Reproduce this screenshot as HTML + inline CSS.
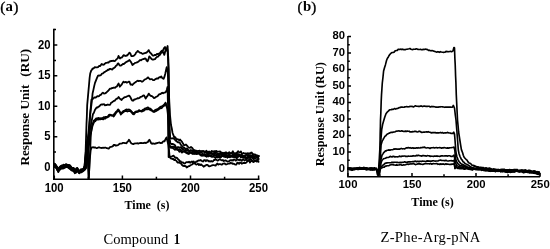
<!DOCTYPE html>
<html><head><meta charset="utf-8"><title>SPR sensorgrams</title>
<style>html,body{margin:0;padding:0;background:#fff}body{width:550px;height:249px;overflow:hidden}svg{display:block}</style>
</head><body>
<svg width="550" height="249" viewBox="0 0 550 249">
<rect width="550" height="249" fill="#fff"/>
<g fill="none" stroke="#000" stroke-width="1.8" stroke-linejoin="round" stroke-linecap="round">
<path d="M54.6 163.8L55.3 165.2L56.0 165.6L57.2 167.6L58.3 169.8L59.3 167.5L60.1 166.5L61.0 166.4L61.8 166.8L62.7 166.4L63.5 165.4L64.3 165.4L65.2 164.7L66.0 164.1L67.0 164.7L68.0 165.1L69.0 165.9L70.0 166.5L71.0 168.3L72.0 169.4L72.8 168.5L73.5 168.1L74.8 170.9L75.5 170.5L76.2 170.2L77.2 168.0L78.4 170.4L79.3 172.2L80.5 169.7L81.2 170.3L82.0 169.5L83.3 169.7L84.5 166.0L85.0 160.5L85.5 155.0L85.7 148.8L85.9 142.5L86.1 136.2L86.3 130.0L86.5 123.8L86.8 117.5L87.0 111.2L87.2 105.0L87.8 98.3L88.4 91.7L89.0 85.0L89.6 78.0L90.2 73.5L91.2 70.6L91.9 69.7L92.6 68.5L93.3 68.7L94.0 68.0L94.8 67.1L95.7 67.4L97.0 67.4L98.0 67.2L99.0 66.0L100.0 66.1L100.8 65.1L101.6 64.0L102.3 64.4L103.0 64.8L103.9 64.7L104.8 63.7L105.8 62.9L106.7 62.8L107.6 62.5L108.5 62.7L109.4 61.5L110.3 61.4L111.2 60.8L112.2 61.0L113.2 60.7L114.2 61.1L115.2 60.8L116.1 59.7L117.0 58.9L117.8 58.1L118.5 55.9L119.2 57.4L120.0 58.5L120.8 57.6L121.7 57.7L122.7 56.4L123.7 55.1L125.0 55.8L125.8 56.0L126.5 55.3L127.3 55.5L128.4 54.0L129.5 52.6L130.4 53.6L131.3 56.0L132.5 56.2L133.4 55.9L134.4 55.2L135.3 54.3L136.1 52.7L137.0 51.9L137.8 50.9L138.6 51.8L139.4 52.2L140.2 52.9L141.3 52.9L142.4 53.9L143.3 53.6L144.1 53.3L145.0 53.0L145.9 52.9L146.8 52.4L147.8 51.4L148.7 50.1L149.5 51.7L150.2 52.8L151.0 53.4L151.9 54.6L152.9 55.6L153.9 55.5L155.0 54.8L156.0 55.0L157.0 53.8L158.0 54.1L159.0 53.7L160.0 52.9L161.0 51.4L162.0 50.7L163.0 50.3L164.0 48.2L165.0 47.0L166.0 50.9L166.8 48.8L167.6 46.0L168.0 53.0L168.4 60.0L168.5 65.8L168.6 71.7L168.7 77.5L168.8 83.3L168.9 89.2L169.0 95.0L169.3 101.7L169.7 108.3L170.0 115.0L170.5 120.0L171.0 125.0L171.8 128.5L172.5 132.7L173.4 135.2L174.3 137.4L175.3 137.2L176.3 139.1L177.3 139.2L178.2 139.4L179.2 140.3L180.1 139.5L181.0 140.7L182.0 141.8L183.0 143.6L184.0 145.2L185.0 145.1L186.0 144.5L187.0 145.6L188.0 146.9L189.0 147.7L190.0 147.8L191.0 146.9L191.9 147.6L192.9 148.9L193.9 150.3L194.8 150.1L195.6 151.3L196.4 150.6L197.2 151.7L198.0 150.9L198.8 150.8L199.7 150.6L200.5 151.5L201.3 151.2L202.2 151.3L203.0 151.2L203.9 151.1L204.8 152.4L205.6 151.4L206.5 150.8L207.4 152.3L208.2 151.9L209.1 151.5L210.0 152.3L210.9 152.1L211.8 150.9L212.8 151.5L213.7 151.4L214.6 151.2L215.5 151.1L216.4 151.0L217.3 151.7L218.2 151.6L219.2 151.7L220.1 151.5L221.0 152.3L221.9 153.1L222.8 153.1L223.8 153.4L224.7 153.5L225.6 153.0L226.5 152.9L227.4 153.5L228.3 152.9L229.2 152.2L230.2 153.2L231.1 153.2L232.0 152.8L232.9 151.3L233.8 153.2L234.7 153.7L235.6 153.5L236.4 153.6L237.3 152.2L238.2 151.2L239.1 152.3L240.0 152.3L240.9 151.4L241.8 153.6L242.7 153.7L243.6 152.9L244.5 153.6L245.5 153.4L246.4 153.6L247.3 153.2L248.2 154.2L249.1 153.2L250.0 153.9L250.9 152.7L251.7 152.5L252.6 154.2L253.4 154.9L254.3 154.6L255.2 154.5L256.0 155.8L256.9 155.1L257.7 156.0L258.6 156.0"/>
<path d="M54.6 165.5L55.3 166.2L56.0 167.0L57.2 169.5L58.3 170.8L59.3 168.4L60.1 168.3L61.0 167.1L61.8 167.4L62.7 167.3L63.5 166.9L64.3 167.2L65.2 166.8L66.0 166.8L67.0 166.6L68.0 166.1L69.0 166.3L70.0 167.3L71.0 168.3L72.0 169.7L72.8 170.2L73.5 170.4L74.8 172.4L75.5 171.5L76.2 170.0L77.2 168.9L78.4 170.4L79.3 172.4L80.5 171.7L81.2 171.3L82.0 171.0L83.3 170.5L84.2 168.7L85.0 167.0L85.5 161.3L86.0 155.7L86.5 150.0L87.2 143.3L88.0 136.7L88.7 130.0L89.3 122.5L90.0 115.0L90.7 110.0L91.4 105.0L92.0 99.7L92.6 93.4L93.4 89.9L94.2 86.1L95.0 82.9L96.0 80.4L97.0 77.9L98.0 75.6L99.0 75.5L100.0 75.6L101.0 75.0L102.0 73.6L103.0 73.4L104.0 72.4L105.0 71.9L106.0 71.1L107.0 70.6L107.9 69.7L108.7 70.0L109.6 68.9L110.5 68.9L111.5 69.4L112.4 69.5L113.3 68.2L114.3 67.8L115.2 67.0L116.0 65.8L116.8 65.4L117.7 63.7L118.5 63.4L119.2 64.8L120.0 65.7L121.0 65.5L122.0 64.8L122.9 64.0L123.8 64.0L124.7 63.3L125.6 62.4L126.5 61.8L127.5 61.4L128.5 60.7L129.5 60.0L130.4 61.2L131.3 62.6L132.5 65.0L133.5 64.1L134.5 63.4L135.3 62.8L136.2 62.6L137.0 62.4L137.8 61.9L138.9 61.2L140.0 60.0L141.0 60.3L142.0 59.5L143.0 59.2L144.0 59.0L144.8 58.4L145.7 58.7L146.6 60.5L147.5 61.3L148.4 59.5L149.3 56.3L150.4 57.5L151.5 59.0L152.3 59.5L153.2 59.6L154.0 59.3L155.0 59.1L156.0 57.8L157.0 56.9L158.0 56.6L159.0 55.4L160.0 54.8L160.8 53.3L161.7 52.6L162.5 50.9L163.4 52.8L164.3 54.9L165.2 51.6L166.0 48.3L166.8 49.5L167.5 50.0L167.9 56.7L168.2 63.3L168.6 70.0L168.7 76.1L168.8 82.2L168.9 88.3L169.0 94.4L169.0 100.6L169.1 106.7L169.2 112.8L169.3 118.9L169.4 125.0L169.8 131.5L170.2 138.0L171.1 138.4L172.1 138.5L173.1 138.2L174.0 138.8L174.8 139.5L175.7 140.8L176.5 140.9L177.3 142.0L178.2 142.5L179.0 142.2L179.8 142.7L180.7 144.6L181.5 145.4L182.3 146.3L183.2 147.5L184.0 147.4L184.9 148.3L185.7 149.4L186.6 148.5L187.4 148.7L188.3 150.1L189.1 150.9L190.0 150.5L190.9 150.4L191.8 150.3L192.7 152.0L193.6 150.8L194.4 151.3L195.3 151.2L196.2 152.3L197.1 152.3L198.0 152.3L198.8 152.3L199.7 152.1L200.5 151.9L201.3 151.5L202.2 151.5L203.0 151.0L203.9 152.0L204.8 152.3L205.6 151.7L206.5 152.8L207.4 153.8L208.2 152.5L209.1 153.1L210.0 153.2L210.9 152.7L211.8 153.5L212.8 153.4L213.7 153.1L214.6 152.7L215.5 153.0L216.4 152.6L217.3 153.3L218.2 154.2L219.2 154.0L220.1 153.8L221.0 152.4L221.9 153.4L222.8 152.7L223.8 153.9L224.7 152.7L225.6 152.3L226.5 152.4L227.4 153.7L228.3 153.7L229.2 154.5L230.2 153.8L231.1 153.3L232.0 153.4L232.9 155.2L233.8 155.1L234.7 153.4L235.6 153.9L236.4 153.2L237.3 154.5L238.2 155.5L239.1 154.8L240.0 156.0L240.9 155.1L241.8 154.6L242.7 156.1L243.6 156.5L244.5 155.8L245.5 155.7L246.4 154.2L247.3 155.2L248.2 155.5L249.1 155.2L250.0 155.3L250.9 155.5L251.7 156.2L252.6 156.0L253.4 157.5L254.3 157.5L255.2 156.3L256.0 156.5L256.9 156.2L257.7 156.7L258.6 155.8"/>
<path d="M54.6 164.9L55.3 166.7L56.0 167.4L57.2 169.9L58.3 171.3L59.3 170.0L60.1 168.5L61.0 167.4L61.8 167.7L62.7 167.5L63.5 167.4L64.3 167.3L65.2 167.1L66.0 167.2L67.0 166.9L68.0 167.0L69.0 167.9L70.0 168.3L71.0 169.7L72.0 170.4L72.8 170.3L73.5 170.1L74.8 172.1L75.5 171.3L76.2 171.2L77.2 170.4L78.4 172.1L79.3 173.3L80.5 171.2L81.2 171.5L82.0 171.0L83.3 170.6L84.4 168.9L85.5 167.0L86.0 161.3L86.5 155.7L87.0 150.0L87.8 143.3L88.5 136.7L89.3 130.0L89.7 123.3L90.1 116.7L90.5 110.0L91.0 104.8L91.4 99.7L92.3 99.2L93.1 98.8L94.0 97.7L94.8 97.4L95.7 97.7L96.5 96.9L97.3 96.2L98.2 96.4L99.0 96.1L100.0 95.0L101.0 94.8L101.9 93.4L102.9 92.6L104.0 93.6L105.0 93.4L106.0 92.9L107.0 91.9L108.0 91.0L109.0 89.8L110.0 88.6L111.0 88.7L112.0 88.0L113.0 88.1L114.0 87.5L115.0 87.8L116.0 86.8L116.9 86.5L117.7 84.9L118.6 83.5L119.8 86.7L120.7 85.7L121.6 84.7L122.5 83.1L123.4 81.6L124.3 82.4L125.1 82.2L126.0 82.0L126.8 82.7L127.7 82.2L128.6 81.7L129.4 81.6L130.6 84.7L131.5 84.5L132.4 85.0L133.3 83.9L134.1 83.2L135.0 82.6L136.1 81.8L137.2 80.8L138.0 80.7L138.7 81.2L139.5 80.8L140.3 80.8L141.2 81.3L142.0 81.8L143.0 81.2L144.0 80.2L145.0 79.3L146.0 79.0L147.0 78.3L148.0 77.3L149.0 78.4L150.0 79.3L151.0 79.2L152.0 79.2L153.0 80.1L154.0 80.2L155.0 79.4L156.0 78.9L157.0 78.4L158.0 78.7L158.8 77.5L159.7 77.1L160.5 77.3L161.3 76.4L162.1 77.9L162.9 78.5L163.7 78.8L164.4 76.9L165.2 74.0L165.9 70.8L166.7 67.2L167.8 72.0L168.0 77.8L168.2 83.5L168.4 89.2L168.6 95.0L168.7 101.1L168.9 107.3L169.0 113.4L169.1 119.6L169.2 125.7L169.4 131.9L169.5 138.0L170.4 143.5L171.2 144.0L172.0 143.9L173.0 144.0L174.0 144.5L175.0 145.2L176.0 147.3L177.0 147.7L178.0 147.0L179.0 147.8L180.0 147.3L180.8 147.1L181.7 148.3L182.5 149.2L183.3 148.9L184.2 150.2L185.0 150.9L185.8 151.0L186.7 150.2L187.5 150.2L188.3 150.9L189.2 151.1L190.0 151.0L190.8 150.2L191.7 150.9L192.5 151.0L193.3 151.3L194.2 151.9L195.0 152.6L196.0 151.5L197.0 151.9L198.0 152.1L198.8 153.0L199.7 152.4L200.5 151.8L201.3 151.8L202.2 153.2L203.0 154.2L203.9 154.6L204.8 153.9L205.6 154.9L206.5 155.2L207.4 154.6L208.2 154.1L209.1 153.3L210.0 153.6L210.9 153.4L211.8 153.7L212.8 153.7L213.7 153.4L214.6 153.7L215.5 153.6L216.4 154.7L217.3 154.7L218.2 154.2L219.2 153.6L220.1 153.4L221.0 154.4L221.9 154.2L222.8 153.5L223.8 155.2L224.7 154.8L225.6 154.4L226.5 155.6L227.4 155.4L228.3 156.7L229.2 156.5L230.2 155.9L231.1 155.7L232.0 156.8L232.9 156.5L233.8 155.1L234.7 154.8L235.6 155.8L236.4 154.4L237.3 154.9L238.2 154.0L239.1 154.3L240.0 155.1L240.9 155.7L241.8 156.4L242.7 157.1L243.6 156.7L244.5 156.5L245.5 157.3L246.4 158.5L247.3 157.0L248.2 157.1L249.1 156.5L250.0 157.2L250.9 156.0L251.7 155.5L252.6 155.5L253.4 154.2L254.3 154.7L255.2 154.8L256.0 156.4L256.9 156.2L257.7 156.9L258.6 156.2"/>
<path d="M54.6 163.7L55.3 164.5L56.0 165.2L57.2 167.2L58.3 169.5L59.3 167.6L60.1 167.0L61.0 166.4L61.8 165.3L62.7 165.5L63.5 164.7L64.3 164.8L65.2 165.2L66.0 164.8L67.0 164.8L68.0 165.3L69.0 164.9L70.0 165.4L71.0 166.5L72.0 168.6L72.8 167.9L73.5 167.8L74.8 169.8L75.5 169.7L76.2 168.6L77.2 167.9L78.4 170.1L79.3 171.3L80.5 170.0L81.2 169.2L82.0 169.9L83.3 168.8L84.4 167.3L85.5 166.0L86.2 160.7L86.8 155.3L87.5 150.0L88.3 143.3L89.1 136.7L89.9 130.0L90.9 124.8L91.9 119.7L92.9 114.3L93.9 112.8L94.9 110.0L95.9 108.4L96.8 107.5L97.6 107.5L98.5 106.6L99.3 106.4L100.2 105.2L101.1 104.6L101.9 104.4L102.9 104.5L104.0 104.2L105.0 105.3L106.0 105.0L106.9 105.1L107.9 104.5L108.8 104.8L109.8 104.9L110.5 103.9L111.3 102.5L112.1 102.3L112.9 101.6L113.8 100.9L114.6 100.8L115.6 99.7L116.6 98.7L117.6 98.5L118.6 97.0L119.6 98.3L120.6 99.3L121.6 100.0L122.4 98.8L123.3 98.3L124.2 97.3L125.0 97.1L125.9 97.1L126.8 96.5L127.6 96.2L128.5 95.7L129.4 95.7L130.4 97.2L131.4 99.4L132.4 100.7L133.3 100.7L134.1 99.4L135.0 99.5L135.9 99.0L136.9 98.6L137.8 98.1L138.7 98.3L139.6 97.9L140.5 96.8L141.3 96.8L142.2 96.4L143.0 95.6L143.9 95.3L144.8 96.8L145.7 98.5L146.7 96.8L147.7 95.6L148.7 93.6L149.5 94.6L150.2 95.5L151.0 96.0L152.0 96.1L153.0 97.0L154.0 98.1L155.0 97.7L156.0 96.9L157.0 96.5L158.0 95.7L158.8 94.6L159.7 94.1L160.5 94.2L161.3 93.3L162.2 92.7L163.1 93.3L164.0 92.7L165.0 92.6L166.0 91.8L166.8 89.7L167.5 87.0L167.7 93.0L167.8 99.0L168.0 105.0L168.1 111.3L168.2 117.7L168.2 124.0L168.3 130.3L168.4 136.7L168.5 143.0L169.5 146.0L170.2 146.2L171.0 146.5L172.0 147.1L173.0 146.4L174.0 147.5L175.0 146.8L175.8 148.6L176.7 148.0L177.5 149.6L178.3 149.7L179.2 149.2L180.0 149.1L180.9 150.1L181.7 150.4L182.6 151.3L183.4 151.4L184.3 151.4L185.1 151.9L186.0 152.4L186.9 153.0L187.7 153.7L188.6 153.8L189.4 152.8L190.3 152.5L191.1 153.1L192.0 153.2L192.9 153.5L193.7 152.9L194.6 153.6L195.4 153.0L196.3 154.0L197.1 153.9L198.0 153.3L198.8 152.9L199.7 153.6L200.5 154.2L201.3 155.4L202.2 154.2L203.0 154.4L203.9 154.4L204.8 155.0L205.6 156.2L206.5 156.4L207.4 156.3L208.2 156.5L209.1 155.1L210.0 155.4L210.9 155.5L211.8 155.1L212.8 154.7L213.7 155.4L214.6 154.9L215.5 155.7L216.4 155.6L217.3 156.5L218.2 155.5L219.2 155.3L220.1 157.1L221.0 155.6L221.9 156.1L222.8 155.7L223.8 155.8L224.7 155.5L225.6 154.9L226.5 155.4L227.4 156.0L228.3 155.3L229.2 154.9L230.2 155.5L231.1 156.0L232.0 155.7L232.9 156.5L233.8 155.8L234.7 157.3L235.6 155.8L236.4 155.6L237.3 157.0L238.2 156.1L239.1 154.9L240.0 156.1L240.9 157.5L241.8 156.2L242.7 155.5L243.6 156.1L244.5 156.5L245.5 157.8L246.4 158.7L247.3 158.5L248.2 157.6L249.1 157.7L250.0 157.0L250.9 156.8L251.7 156.8L252.6 156.5L253.4 156.2L254.3 157.0L255.2 156.1L256.0 156.2L256.9 156.3L257.7 157.3L258.6 155.9"/>
<path d="M54.6 165.1L55.3 165.6L56.0 165.9L57.2 168.3L58.3 170.4L59.3 168.4L60.1 167.8L61.0 166.4L61.8 166.3L62.7 166.7L63.5 166.8L64.3 165.9L65.2 165.2L66.0 165.7L67.0 165.5L68.0 166.1L69.0 166.1L70.0 166.5L71.0 168.1L72.0 169.4L72.8 169.7L73.5 169.3L74.8 171.6L75.5 171.0L76.2 170.6L77.2 169.6L78.4 171.1L79.3 172.1L80.5 170.2L81.2 170.7L82.0 170.2L83.3 169.9L84.6 166.0L85.1 160.7L85.5 155.3L86.0 150.0L86.6 145.0L87.2 140.0L87.5 146.7L87.7 153.3L88.0 160.0L88.2 166.2L88.5 172.3L88.7 178.5L89.1 171.8L89.4 165.0L89.8 157.5L90.2 150.0L90.5 142.5L90.8 135.0L91.5 129.5L92.3 124.6L93.2 122.7L94.0 120.4L95.0 119.8L96.0 118.5L97.0 118.4L97.9 118.2L98.9 118.0L99.9 118.5L101.0 118.1L102.0 118.3L103.0 117.7L104.0 117.1L105.0 117.4L105.8 116.8L106.7 116.9L107.5 116.5L108.3 116.0L109.0 114.8L109.8 114.6L110.7 114.9L111.6 115.3L112.5 115.3L113.4 115.6L114.3 114.0L115.1 113.2L116.0 111.8L117.1 110.8L118.2 109.4L119.0 110.3L119.8 111.6L120.6 112.9L121.4 112.8L122.2 112.3L123.0 111.3L123.8 110.9L124.6 110.4L125.4 110.0L126.3 109.4L127.1 109.6L128.0 109.6L129.1 109.5L130.2 110.0L131.0 111.0L131.9 111.8L132.7 112.8L133.6 113.3L134.4 112.9L135.2 111.9L136.0 111.4L137.0 111.3L138.0 111.0L139.0 110.1L140.0 110.8L141.0 110.9L142.0 110.5L143.0 109.8L144.0 109.2L145.0 108.5L146.0 108.3L147.0 107.8L148.0 107.3L149.0 108.6L150.0 108.5L151.0 109.2L152.0 110.4L153.0 111.1L154.0 111.5L155.0 110.0L156.0 109.7L157.0 109.2L158.0 109.0L158.8 108.3L159.7 107.2L160.5 107.4L161.3 106.3L162.4 106.1L163.5 105.1L164.5 104.3L165.5 102.6L166.4 105.6L167.3 107.9L167.8 114.0L168.3 120.0L168.4 126.2L168.4 132.3L168.4 138.5L168.5 144.7L168.6 150.8L168.6 157.0L169.4 156.9L170.2 156.7L171.0 156.6L171.8 156.6L172.7 155.8L173.5 155.7L174.3 156.6L175.2 157.8L176.2 157.6L177.1 157.9L178.1 159.3L179.0 159.9L179.8 161.7L180.7 161.2L181.5 162.4L182.3 162.5L183.2 162.5L184.0 163.5L185.0 163.4L186.0 162.3L187.0 162.0L188.0 162.4L189.0 161.7L190.0 162.7L191.0 162.0L191.9 161.5L192.8 162.2L193.6 161.4L194.5 162.5L195.4 162.8L196.2 161.5L197.1 161.5L198.0 160.7L198.9 160.5L199.8 160.3L200.6 160.0L201.5 160.7L202.4 161.3L203.2 161.5L204.1 160.1L205.0 160.2L205.9 161.2L206.8 160.2L207.7 160.4L208.6 161.4L209.4 161.1L210.3 161.6L211.2 161.0L212.1 161.5L213.0 161.4L213.9 159.9L214.8 160.0L215.7 159.5L216.6 159.9L217.4 160.5L218.3 160.3L219.2 159.5L220.1 159.1L221.0 160.0L221.9 160.3L222.8 160.0L223.8 161.0L224.7 160.6L225.6 160.3L226.5 160.9L227.4 161.6L228.3 161.3L229.2 161.1L230.2 160.2L231.1 160.5L232.0 160.0L232.9 160.6L233.8 159.5L234.7 159.6L235.6 160.5L236.4 160.4L237.3 159.4L238.2 159.6L239.1 160.3L240.0 159.4L240.9 160.0L241.8 160.8L242.7 159.5L243.6 159.7L244.5 160.5L245.5 159.9L246.4 159.8L247.3 160.5L248.2 160.2L249.1 160.0L250.0 159.9L250.9 158.9L251.7 160.4L252.6 161.5L253.4 161.4L254.3 161.5L255.2 160.9L256.0 160.6L256.9 160.0L257.7 159.1L258.6 159.7"/>
<path d="M54.6 166.2L55.3 167.4L56.0 167.3L57.2 169.5L58.3 172.1L59.3 169.9L60.1 169.6L61.0 168.8L61.8 168.7L62.7 168.7L63.5 168.4L64.3 167.9L65.2 167.6L66.0 167.1L67.0 166.7L68.0 167.5L69.0 168.3L70.0 169.1L71.0 169.7L72.0 170.5L72.8 170.8L73.5 170.4L74.8 173.2L75.5 172.9L76.2 172.4L77.2 170.7L78.4 172.3L79.3 173.1L80.5 172.1L81.2 172.4L82.0 171.9L83.3 171.0L84.3 170.3L85.3 169.1L86.3 168.0L87.0 162.0L87.7 156.0L88.4 150.0L89.4 142.5L90.4 135.0L91.5 130.1L92.6 125.6L93.4 123.6L94.3 121.7L95.3 121.2L96.3 119.8L97.3 119.4L98.2 119.6L99.2 119.4L100.2 119.4L101.3 119.1L102.3 119.1L103.3 119.4L104.3 118.4L105.3 118.7L106.1 117.7L107.0 117.5L107.8 117.0L108.6 116.8L109.3 115.7L110.1 115.0L111.0 115.5L111.9 115.3L112.8 115.7L113.7 116.5L114.6 115.2L115.4 113.9L116.3 112.6L117.4 111.4L118.5 110.5L119.3 111.8L120.1 112.8L120.9 114.5L121.7 113.5L122.5 112.8L123.3 112.2L124.1 111.5L124.9 111.1L125.7 111.1L126.6 110.8L127.4 111.5L128.3 111.2L129.4 111.2L130.5 111.0L131.3 112.2L132.2 113.2L133.0 114.1L133.9 114.3L134.7 113.4L135.5 112.1L136.3 112.0L137.3 112.0L138.3 111.6L139.3 111.2L140.3 110.9L141.3 111.6L142.3 111.3L143.3 111.0L144.3 110.5L145.3 109.4L146.3 109.2L147.3 109.3L148.3 108.9L149.3 109.6L150.3 109.8L151.3 110.6L152.3 110.7L153.3 111.8L154.3 111.9L155.3 111.3L156.3 110.9L157.3 110.3L158.3 109.7L159.1 109.0L160.0 108.2L160.8 108.3L161.6 108.2L162.7 106.8L163.8 106.1L164.8 105.0L165.8 103.7L166.7 106.8L167.6 109.0L168.0 114.3L168.3 119.7L168.7 125.0L168.9 131.7L169.1 138.3L169.3 145.0L170.2 147.5L171.1 147.8L172.0 147.8L173.0 148.3L174.0 148.9L175.0 149.8L176.0 149.3L176.9 149.5L177.7 149.8L178.6 150.5L179.4 151.8L180.3 150.9L181.1 151.4L182.0 152.6L182.9 151.6L183.7 151.7L184.6 151.6L185.4 151.9L186.3 152.8L187.1 152.1L188.0 152.9L188.9 153.8L189.8 152.8L190.6 152.7L191.5 152.7L192.4 153.9L193.2 153.7L194.1 153.8L195.0 153.8L196.0 153.6L197.0 153.3L198.0 153.7L198.8 153.5L199.7 154.7L200.5 154.6L201.3 155.6L202.2 155.7L203.0 155.8L203.9 155.4L204.8 155.5L205.6 155.6L206.5 156.5L207.4 155.4L208.2 154.9L209.1 156.0L210.0 155.3L210.9 156.5L211.8 156.8L212.8 156.8L213.7 156.4L214.6 157.5L215.5 158.0L216.4 156.4L217.3 157.5L218.2 156.9L219.2 157.4L220.1 157.4L221.0 157.2L221.9 155.9L222.8 156.1L223.8 156.7L224.7 156.8L225.6 157.1L226.5 156.5L227.4 157.7L228.3 156.8L229.2 157.0L230.2 157.3L231.1 156.2L232.0 156.6L232.9 156.2L233.8 157.1L234.7 157.1L235.6 157.2L236.4 158.1L237.3 157.6L238.2 156.7L239.1 156.1L240.0 155.5L240.9 157.1L241.8 156.8L242.7 157.5L243.6 157.8L244.5 157.9L245.5 157.4L246.4 157.6L247.3 157.4L248.2 157.8L249.1 156.9L250.0 158.4L250.9 156.8L251.7 156.6L252.6 158.3L253.4 159.3L254.3 158.7L255.2 158.9L256.0 157.6L256.9 157.9L257.7 156.8L258.6 158.5"/>
<path d="M54.6 164.1L55.3 165.1L56.0 165.5L57.2 168.2L58.3 170.1L59.3 168.1L60.1 167.0L61.0 166.1L61.8 166.3L62.7 166.4L63.5 166.4L64.3 165.5L65.2 165.1L66.0 164.6L67.0 165.6L68.0 165.2L69.0 166.5L70.0 167.5L71.0 167.8L72.0 168.7L72.8 168.5L73.5 168.3L74.8 170.9L75.5 170.0L76.2 169.7L77.2 168.7L78.4 170.5L79.3 171.7L80.5 170.8L81.2 170.4L82.0 170.9L83.3 169.6L84.0 168.3L84.8 167.0L85.3 161.3L85.7 155.7L86.2 150.0L87.4 143.0L87.6 148.5L87.8 154.0L88.0 159.5L88.2 165.0L88.5 171.7L88.8 178.3L89.1 172.2L89.4 166.1L89.7 160.0L90.2 155.0L90.7 150.0L91.7 147.5L92.5 147.4L93.3 147.2L94.2 147.7L95.0 147.3L95.8 147.7L96.7 148.1L97.5 147.9L98.3 147.4L99.2 147.3L100.0 147.6L101.0 147.9L102.0 148.0L103.0 147.7L104.0 147.9L104.9 147.7L105.9 147.7L106.8 148.2L107.8 148.4L108.7 148.7L109.5 147.7L110.2 147.0L111.0 146.8L111.9 146.6L112.9 146.1L113.8 144.9L114.6 144.8L115.4 145.5L116.2 145.5L117.0 145.4L118.0 145.1L119.0 144.3L120.0 143.6L121.0 143.6L122.0 143.4L123.0 142.9L124.0 142.8L124.8 143.2L125.7 143.1L126.5 143.3L127.3 141.9L128.2 141.2L129.0 139.7L129.9 141.1L130.7 142.6L131.6 143.5L132.4 143.8L133.3 144.2L134.2 143.6L135.0 143.5L135.8 143.3L136.7 143.3L137.5 143.2L138.3 143.6L139.2 143.2L140.0 143.2L141.0 142.8L142.0 143.2L143.0 143.2L144.0 143.0L144.9 142.7L145.9 143.1L146.9 142.4L147.7 142.2L148.6 140.7L149.4 139.8L150.3 141.4L151.1 143.2L152.0 143.8L153.0 143.4L154.0 143.6L155.0 143.9L156.0 143.1L156.9 143.3L157.7 142.9L158.6 142.7L159.4 142.4L160.3 143.1L161.1 142.7L162.0 143.1L162.8 141.8L163.7 141.1L164.5 141.3L165.5 139.1L166.5 137.4L167.5 141.4L168.5 145.3L169.1 151.2L169.6 157.0L170.7 158.3L171.6 158.6L172.4 159.0L173.3 158.8L174.1 160.1L175.0 159.6L175.8 160.4L176.7 161.2L177.5 162.5L178.3 162.4L179.2 162.6L180.0 163.1L181.0 163.5L182.0 165.0L183.0 165.9L184.0 166.0L184.9 165.9L185.8 166.1L186.6 167.5L187.5 167.1L188.5 166.2L189.5 166.2L190.5 165.2L191.5 164.7L192.6 164.1L193.6 163.1L194.5 163.4L195.4 163.9L196.2 164.6L197.1 164.2L198.0 163.7L198.8 165.0L199.7 164.3L200.5 165.0L201.3 164.5L202.2 165.4L203.0 166.0L203.9 166.7L204.8 165.9L205.7 165.4L206.6 164.8L207.5 164.8L208.4 165.9L209.3 166.4L210.2 166.2L211.1 165.8L212.0 165.4L212.9 165.1L213.8 165.1L214.7 165.3L215.6 165.7L216.5 164.3L217.4 163.5L218.3 164.6L219.2 164.2L220.1 164.1L221.0 164.3L221.9 164.8L222.8 163.7L223.8 163.7L224.7 163.3L225.6 164.3L226.5 164.4L227.4 164.0L228.3 163.7L229.2 163.7L230.2 162.9L231.1 163.4L232.0 163.0L232.9 164.0L233.8 163.6L234.7 164.3L235.6 164.6L236.4 164.5L237.3 162.7L238.2 162.9L239.1 163.9L240.0 162.6L240.9 162.6L241.8 163.7L242.7 163.2L243.6 162.9L244.5 163.0L245.5 163.1L246.4 162.5L247.3 161.4L248.2 161.0L249.1 160.6L250.0 162.5L250.9 161.1L251.7 161.2L252.6 161.0L253.4 162.0L254.3 160.8L255.2 160.6L256.0 161.1L256.9 161.6L257.7 160.8L258.6 161.9"/>
</g>
<g fill="none" stroke="#000" stroke-width="1.65" stroke-linejoin="round" stroke-linecap="round">
<path d="M348.2 167.8L349.1 167.9L350.1 168.3L351.1 168.7L352.0 168.8L352.8 168.8L353.7 168.8L354.5 168.5L355.3 168.0L356.2 168.3L357.0 167.9L357.8 168.3L358.7 167.7L359.5 167.6L360.3 168.1L361.2 168.1L362.0 167.7L363.0 167.7L364.0 167.4L365.0 167.8L366.0 168.0L366.8 167.9L367.7 168.2L368.5 168.3L369.3 168.0L370.2 168.0L371.0 167.8L371.9 168.0L372.8 168.4L373.6 168.3L374.5 167.8L375.4 168.3L376.3 168.2L377.5 174.8L378.5 172.0L378.8 166.3L379.2 160.7L379.5 155.0L379.8 150.0L380.0 145.0L380.1 138.8L380.2 132.5L380.4 126.2L380.5 120.0L380.8 113.8L381.0 107.5L381.2 101.2L381.5 95.0L381.9 89.0L382.3 83.0L383.0 77.0L383.6 71.0L384.5 67.8L385.4 64.9L386.6 60.3L387.3 58.5L388.0 57.6L388.8 56.0L389.6 54.8L390.5 53.7L391.3 53.0L392.2 52.5L393.2 52.5L394.0 52.3L394.7 51.2L395.5 50.7L396.3 50.5L397.2 50.5L398.0 49.4L399.0 49.3L400.0 49.5L401.0 49.1L401.8 49.6L402.7 49.1L403.5 49.7L404.4 49.6L405.2 49.7L406.2 49.3L407.1 49.2L408.1 49.0L409.1 48.8L410.0 48.5L411.0 49.2L411.9 49.5L412.8 49.6L413.6 49.2L414.5 49.3L415.4 49.2L416.2 48.8L417.1 49.0L418.0 49.4L418.9 49.5L419.8 49.5L420.6 49.3L421.5 49.7L422.4 49.7L423.2 49.3L424.1 49.6L425.0 49.1L425.9 49.3L426.8 49.3L427.6 49.7L428.5 50.4L429.4 50.2L430.2 50.6L431.1 50.8L432.0 50.6L432.9 50.8L433.9 51.2L434.8 51.4L435.8 51.8L436.7 52.1L437.6 51.7L438.6 51.9L439.5 52.3L440.4 51.7L441.4 52.0L442.3 52.2L443.2 52.3L444.1 52.3L445.1 52.2L446.0 51.4L446.9 51.6L447.8 51.5L448.8 51.7L449.7 51.5L450.6 51.3L451.5 51.7L452.2 51.4L453.0 50.9L453.9 47.5L454.5 48.0L454.7 53.5L454.9 59.0L455.2 64.5L455.4 70.0L455.6 76.2L455.9 82.5L456.1 88.8L456.3 95.0L456.6 101.2L456.9 107.5L457.2 113.8L457.5 120.0L458.1 126.0L458.6 132.0L459.3 136.5L460.0 141.0L460.7 145.3L461.4 149.6L462.6 152.8L463.3 155.2L464.0 157.0L465.0 158.2L466.0 159.3L467.0 160.1L468.0 161.9L469.0 162.9L470.0 163.3L471.0 163.9L472.0 165.2L473.0 165.2L474.0 165.5L475.0 166.1L476.0 166.4L477.0 166.9L478.0 166.9L479.0 167.2L480.0 167.3L480.9 167.4L481.7 167.6L482.6 167.5L483.4 167.5L484.3 168.5L485.1 168.3L486.0 167.8L486.9 168.3L487.8 168.8L488.6 168.3L489.5 168.0L490.4 168.4L491.2 168.8L492.1 169.1L493.0 169.2L493.9 168.9L494.8 169.3L495.6 169.4L496.5 169.7L497.4 169.6L498.2 169.4L499.1 170.1L500.0 169.7L500.9 169.7L501.8 169.3L502.6 169.4L503.5 169.4L504.4 169.4L505.2 169.7L506.1 169.8L507.0 169.7L507.9 169.8L508.8 169.8L509.6 169.6L510.5 169.8L511.4 169.8L512.2 170.2L513.1 170.1L514.0 169.5L514.9 169.5L515.7 169.5L516.6 169.5L517.4 169.6L518.3 170.5L519.1 170.6L520.0 170.4L520.9 170.8L521.8 169.9L522.7 170.0L523.6 170.4L524.5 170.2L525.5 169.9L526.4 170.4L527.3 171.0L528.2 170.4L529.1 170.3L530.0 170.3L530.9 171.1L531.7 171.4L532.6 171.9L533.4 171.8L534.3 171.2L535.1 171.5L536.0 171.8L536.8 171.8L537.6 172.5L538.5 172.9L539.3 172.5"/>
<path d="M348.2 168.2L349.1 168.9L350.1 168.6L351.1 168.4L352.0 168.4L352.8 169.0L353.7 169.1L354.5 168.7L355.3 168.8L356.2 168.5L357.0 168.2L357.8 167.9L358.7 167.9L359.5 168.3L360.3 168.6L361.2 168.0L362.0 168.4L363.0 168.6L364.0 168.1L365.0 168.5L366.0 169.1L366.8 168.7L367.7 168.8L368.5 169.1L369.3 168.6L370.2 168.5L371.0 169.0L371.9 168.6L372.8 168.6L373.6 169.2L374.5 168.9L375.4 168.8L376.3 168.8L377.0 169.8L378.0 175.2L379.2 170.0L379.5 163.8L379.9 157.5L380.2 151.2L380.5 145.0L380.9 139.8L381.3 134.7L381.7 129.5L382.6 124.5L383.6 121.0L384.8 117.0L386.0 113.7L386.9 112.5L387.7 111.6L388.6 110.9L389.6 109.7L390.4 109.7L391.2 109.6L392.0 109.4L392.9 109.4L393.8 109.0L394.7 108.5L395.6 109.1L396.5 108.6L397.5 108.4L398.4 108.1L399.4 107.6L400.3 107.4L401.2 107.1L402.2 107.1L403.1 107.2L404.1 107.1L405.0 106.9L405.9 106.8L406.7 106.6L407.6 106.8L408.4 106.8L409.3 106.7L410.1 106.3L411.0 106.5L411.9 106.3L412.8 106.7L413.7 106.9L414.6 106.2L415.5 105.8L416.4 106.2L417.3 106.3L418.2 106.4L419.1 106.3L420.0 106.3L420.9 105.9L421.8 106.2L422.7 106.6L423.6 106.1L424.5 106.0L425.5 106.3L426.4 106.3L427.3 106.4L428.2 106.2L429.1 106.2L430.0 106.8L430.9 106.8L431.8 106.4L432.7 106.7L433.6 106.5L434.5 106.7L435.5 107.1L436.4 107.0L437.3 107.1L438.2 107.2L439.1 106.9L440.0 107.0L440.9 106.7L441.8 106.8L442.7 106.9L443.6 107.0L444.5 107.3L445.5 107.1L446.4 107.1L447.3 107.0L448.2 107.1L449.1 107.1L450.0 107.1L450.8 107.1L451.7 107.2L452.5 107.2L453.3 105.4L454.5 108.0L455.3 115.0L456.0 120.0L456.4 125.0L456.8 130.0L457.3 136.7L457.8 143.3L458.3 150.0L459.0 153.5L460.0 156.5L460.7 157.9L461.4 159.3L462.2 160.1L463.0 161.7L464.0 162.2L465.0 163.5L466.0 164.0L467.0 164.3L468.0 165.1L469.0 165.5L470.0 166.4L471.0 167.1L472.0 167.6L473.0 167.3L473.9 167.0L474.8 166.7L475.6 166.8L476.5 166.9L477.4 167.7L478.2 167.6L479.1 168.5L480.0 168.4L480.9 168.8L481.9 168.9L482.8 168.9L483.7 168.4L484.6 168.4L485.6 168.8L486.5 169.2L487.4 169.8L488.4 169.9L489.3 169.4L490.2 169.9L491.1 170.0L492.1 169.9L493.0 170.0L493.9 169.5L494.8 169.6L495.6 169.9L496.5 169.6L497.4 169.7L498.2 169.9L499.1 170.2L500.0 169.6L500.9 169.5L501.8 170.3L502.6 170.2L503.5 170.1L504.4 169.6L505.2 169.7L506.1 170.5L507.0 170.1L507.9 170.2L508.8 170.3L509.6 170.1L510.5 170.3L511.4 170.4L512.2 170.4L513.1 169.8L514.0 169.7L514.9 170.1L515.7 170.4L516.6 170.5L517.4 170.8L518.3 171.3L519.1 171.5L520.0 171.4L520.9 170.7L521.8 170.8L522.7 170.9L523.6 170.9L524.5 170.5L525.5 171.1L526.4 170.8L527.3 170.9L528.2 171.3L529.1 171.7L530.0 172.0L530.9 171.7L531.7 171.7L532.6 171.9L533.4 171.8L534.3 171.4L535.1 171.3L536.0 171.8L536.8 172.5L537.6 172.6L538.5 172.2L539.3 172.0"/>
<path d="M348.2 169.3L349.1 169.5L350.1 169.1L351.1 168.9L352.0 169.3L352.8 169.2L353.7 168.8L354.5 168.7L355.3 169.0L356.2 169.1L357.0 169.2L357.8 169.3L358.7 168.9L359.5 169.0L360.3 169.0L361.2 169.2L362.0 168.7L363.0 169.1L364.0 169.1L365.0 169.1L366.0 169.1L366.8 168.9L367.7 168.7L368.5 169.1L369.3 169.3L370.2 169.6L371.0 169.5L371.9 169.5L372.8 169.5L373.6 169.6L374.5 169.6L375.4 169.3L376.3 169.1L377.3 170.0L378.3 175.0L379.5 170.0L379.9 165.0L380.3 160.0L380.6 152.5L381.0 145.0L382.2 141.0L382.9 139.8L383.6 138.5L384.3 137.4L385.0 136.2L385.8 135.8L386.6 134.7L387.6 133.9L388.5 133.5L389.3 133.1L390.0 132.9L390.8 132.4L391.6 132.4L392.4 132.5L393.2 132.1L394.0 132.0L395.0 131.9L396.0 131.3L397.0 131.1L398.0 131.0L398.9 130.8L399.9 131.2L400.8 131.1L401.7 130.8L402.6 131.1L403.6 131.5L404.5 131.4L405.4 131.1L406.4 131.4L407.3 131.1L408.2 131.3L409.1 131.2L410.1 132.0L411.0 131.9L411.9 131.9L412.8 131.6L413.7 131.7L414.6 131.4L415.5 131.4L416.4 131.6L417.3 132.0L418.2 131.7L419.1 131.2L420.0 131.4L421.0 132.1L421.9 132.4L422.8 132.2L423.7 132.1L424.6 132.1L425.5 132.0L426.4 131.9L427.3 132.1L428.2 131.7L429.1 132.1L430.0 132.3L430.9 132.6L431.8 132.9L432.6 132.6L433.5 132.6L434.4 132.5L435.3 132.6L436.2 132.9L437.1 132.7L437.9 132.9L438.8 132.9L439.7 132.8L440.6 132.4L441.5 132.9L442.4 132.5L443.2 133.1L444.1 133.0L445.0 132.8L445.9 132.9L446.8 132.7L447.7 132.4L448.6 132.9L449.4 133.0L450.3 133.0L451.2 133.5L452.1 133.4L453.0 133.5L453.8 132.2L454.5 134.0L455.0 140.0L455.4 145.0L455.7 150.0L456.3 154.0L457.0 157.0L458.0 159.6L459.0 161.5L459.7 162.3L460.4 163.2L461.2 163.8L462.0 164.5L462.8 164.4L463.7 165.2L464.5 165.4L465.3 166.0L466.2 166.0L467.0 167.3L467.9 167.0L468.8 167.4L469.7 167.9L470.6 168.0L471.4 167.9L472.3 168.3L473.2 168.6L474.1 168.5L475.0 168.9L475.9 168.3L476.8 168.9L477.7 169.1L478.6 169.1L479.5 169.0L480.5 168.5L481.4 168.7L482.3 168.8L483.2 168.6L484.1 169.3L485.0 169.3L485.9 169.0L486.8 169.2L487.7 168.9L488.6 169.0L489.4 168.9L490.3 169.5L491.2 169.3L492.1 169.7L493.0 169.5L493.9 169.7L494.8 170.0L495.6 169.9L496.5 169.9L497.4 169.9L498.2 170.5L499.1 170.7L500.0 171.3L500.9 170.7L501.8 170.6L502.6 170.0L503.5 170.4L504.4 171.0L505.2 170.8L506.1 170.3L507.0 170.4L507.9 170.1L508.8 170.8L509.6 170.9L510.5 170.9L511.4 170.6L512.2 170.2L513.1 170.4L514.0 169.8L514.9 170.0L515.7 171.1L516.6 170.8L517.4 171.1L518.3 171.3L519.1 171.0L520.0 170.3L520.9 170.4L521.8 170.9L522.7 170.8L523.6 170.6L524.5 170.6L525.5 170.9L526.4 170.7L527.3 171.1L528.2 171.4L529.1 170.9L530.0 171.3L530.9 171.5L531.7 171.3L532.6 171.2L533.4 171.0L534.3 171.3L535.1 171.5L536.0 171.6L536.8 172.1L537.6 171.7L538.5 172.1L539.3 172.6"/>
<path d="M348.2 168.0L349.1 168.3L350.1 168.1L351.1 168.4L352.0 168.2L352.8 168.4L353.7 168.0L354.5 168.6L355.3 168.6L356.2 168.2L357.0 168.3L357.8 168.2L358.7 167.8L359.5 167.6L360.3 167.6L361.2 168.1L362.0 168.4L363.0 167.8L364.0 168.0L365.0 167.8L366.0 167.8L366.8 168.1L367.7 168.8L368.5 168.8L369.3 168.7L370.2 169.0L371.0 169.1L371.9 168.6L372.8 168.4L373.6 168.4L374.5 168.8L375.4 169.1L376.3 169.1L377.6 171.0L378.6 175.0L379.5 172.0L380.1 166.0L380.8 160.0L382.0 155.3L382.8 154.1L383.5 152.8L384.5 151.8L385.5 150.8L386.3 150.9L387.2 150.2L388.0 150.1L389.0 149.9L390.0 150.2L391.0 149.7L392.0 149.7L393.0 149.6L394.0 148.9L395.0 149.2L395.9 148.8L396.8 149.2L397.7 149.1L398.6 149.1L399.4 149.1L400.3 148.9L401.2 148.4L402.1 148.9L403.0 148.8L403.9 148.7L404.8 148.9L405.7 148.2L406.6 147.8L407.4 148.0L408.3 147.5L409.2 148.0L410.1 147.7L411.0 148.1L411.9 148.1L412.8 147.8L413.7 148.3L414.6 148.0L415.5 148.2L416.4 147.8L417.3 148.1L418.2 147.7L419.1 148.0L420.0 147.9L421.0 147.6L421.9 147.7L422.8 147.3L423.7 147.4L424.6 147.1L425.5 147.7L426.4 148.0L427.3 147.7L428.2 147.8L429.1 148.0L430.0 148.5L430.9 147.9L431.8 147.7L432.6 147.7L433.5 147.6L434.4 148.0L435.3 147.7L436.2 147.6L437.1 147.8L437.9 147.8L438.8 147.7L439.7 147.5L440.6 147.8L441.5 148.2L442.4 147.8L443.2 148.0L444.1 147.6L445.0 147.8L445.9 148.0L446.8 148.1L447.7 147.9L448.6 148.1L449.4 147.9L450.3 147.8L451.2 147.7L452.1 147.5L453.0 147.5L454.0 147.1L454.8 150.0L455.5 158.0L456.2 160.7L457.0 162.5L458.3 164.2L459.1 164.8L460.0 165.5L461.0 165.9L462.0 165.7L463.0 166.3L464.0 166.4L465.0 166.6L466.0 167.8L466.9 167.9L467.8 168.5L468.7 168.2L469.6 167.6L470.5 168.1L471.4 168.9L472.3 168.7L473.2 168.6L474.1 168.5L475.0 169.1L475.9 168.9L476.8 169.1L477.7 169.2L478.6 169.0L479.5 169.6L480.5 169.4L481.4 168.9L482.3 168.7L483.2 168.6L484.1 169.5L485.0 169.1L485.9 169.1L486.8 168.9L487.7 169.2L488.6 169.1L489.4 169.7L490.3 170.1L491.2 170.1L492.1 170.1L493.0 170.3L493.9 170.9L494.8 170.6L495.6 171.0L496.5 171.2L497.4 170.8L498.2 170.7L499.1 171.2L500.0 170.5L500.9 170.8L501.8 170.5L502.6 171.2L503.5 170.9L504.4 171.1L505.2 171.3L506.1 171.4L507.0 171.7L507.9 171.1L508.8 170.9L509.6 171.5L510.5 171.9L511.4 172.1L512.2 171.5L513.1 171.0L514.0 170.7L514.9 170.7L515.7 170.4L516.6 170.9L517.4 171.2L518.3 170.6L519.1 171.1L520.0 171.1L520.9 171.3L521.8 170.8L522.7 171.3L523.6 171.1L524.5 171.1L525.5 171.0L526.4 171.4L527.3 171.6L528.2 171.4L529.1 171.3L530.0 171.5L530.9 171.1L531.7 171.7L532.6 171.5L533.4 171.3L534.3 171.3L535.1 172.3L536.0 172.6L536.8 172.9L537.6 172.9L538.5 173.6L539.3 173.5"/>
<path d="M348.2 168.6L349.1 168.8L350.1 169.2L351.1 169.5L352.0 169.1L352.8 169.1L353.7 169.2L354.5 168.9L355.3 169.2L356.2 169.3L357.0 169.1L357.8 169.0L358.7 168.8L359.5 169.2L360.3 169.2L361.2 169.0L362.0 168.6L363.0 168.7L364.0 168.5L365.0 169.0L366.0 169.5L366.8 169.6L367.7 169.4L368.5 169.3L369.3 168.9L370.2 169.1L371.0 169.0L371.9 169.0L372.8 169.8L373.6 169.2L374.5 169.5L375.4 169.1L376.3 169.7L377.4 170.2L378.5 171.0L379.6 174.0L380.3 168.5L381.0 163.0L382.0 160.3L382.8 159.5L383.5 158.7L384.5 158.5L385.5 158.3L386.3 157.6L387.2 157.5L388.0 157.5L388.9 157.2L389.8 156.6L390.6 156.4L391.5 156.8L392.4 156.8L393.2 156.3L394.1 156.6L395.0 156.9L395.9 156.7L396.8 156.8L397.7 156.8L398.6 156.7L399.4 156.1L400.3 156.4L401.2 156.6L402.1 156.0L403.0 156.2L403.9 156.0L404.8 156.0L405.7 156.4L406.6 156.4L407.4 156.5L408.3 156.1L409.2 156.2L410.1 156.2L411.0 156.1L411.9 156.2L412.8 155.9L413.7 155.7L414.6 156.0L415.5 156.0L416.4 155.4L417.3 155.7L418.2 155.2L419.1 155.5L420.0 155.8L421.0 155.9L421.9 156.1L422.8 155.5L423.7 155.6L424.6 155.8L425.5 155.8L426.4 156.1L427.3 155.6L428.2 155.7L429.1 155.8L430.0 156.4L430.9 156.1L431.8 156.2L432.6 156.2L433.5 156.4L434.4 156.0L435.3 156.1L436.2 156.2L437.1 155.9L437.9 156.3L438.8 156.2L439.7 156.5L440.6 156.1L441.5 155.8L442.4 155.8L443.2 156.0L444.1 156.0L445.0 155.8L445.9 155.9L446.8 155.9L447.7 156.1L448.6 155.7L449.4 155.7L450.3 156.0L451.2 156.5L452.1 156.4L453.0 156.0L454.0 155.1L455.0 160.0L455.7 163.2L456.5 165.0L457.2 165.6L458.0 166.2L459.0 166.6L460.0 167.0L460.9 167.1L461.8 167.2L462.7 167.0L463.6 167.6L464.5 168.3L465.5 168.2L466.4 167.8L467.3 168.1L468.2 168.5L469.1 168.9L470.0 168.8L470.9 169.2L471.8 168.8L472.6 169.0L473.5 169.1L474.4 169.2L475.3 169.4L476.2 169.6L477.1 169.3L477.9 169.2L478.8 169.0L479.7 169.0L480.6 168.7L481.5 168.7L482.4 169.4L483.2 169.7L484.1 169.4L485.0 169.5L485.9 170.0L486.8 170.1L487.7 170.2L488.6 169.7L489.4 169.6L490.3 170.0L491.2 170.2L492.1 170.6L493.0 170.9L493.9 171.1L494.8 170.7L495.6 170.1L496.5 170.4L497.4 170.8L498.2 170.5L499.1 170.8L500.0 170.4L500.9 170.3L501.8 170.4L502.6 170.7L503.5 170.9L504.4 170.8L505.2 170.7L506.1 171.2L507.0 171.6L507.9 170.9L508.8 171.6L509.6 170.8L510.5 170.8L511.4 170.7L512.2 170.8L513.1 170.6L514.0 170.9L514.9 171.2L515.7 171.1L516.6 170.7L517.4 170.9L518.3 171.0L519.1 171.1L520.0 171.3L520.9 171.1L521.8 171.4L522.7 172.0L523.6 171.4L524.5 171.7L525.5 172.1L526.4 172.0L527.3 171.7L528.2 172.1L529.1 172.4L530.0 172.2L530.9 171.9L531.7 172.6L532.6 172.6L533.4 172.4L534.3 172.1L535.1 172.1L536.0 172.2L536.8 172.8L537.6 172.4L538.5 172.4L539.3 172.8"/>
<path d="M348.2 169.1L349.1 168.8L350.1 168.9L351.1 169.0L352.0 169.2L352.8 169.1L353.7 168.8L354.5 168.5L355.3 168.9L356.2 168.8L357.0 168.5L357.8 168.7L358.7 168.9L359.5 169.1L360.3 169.0L361.2 168.6L362.0 168.8L363.0 168.6L364.0 168.6L365.0 168.9L366.0 169.3L366.8 168.7L367.7 169.2L368.5 169.3L369.3 169.3L370.2 169.7L371.0 169.7L371.9 169.9L372.8 169.5L373.6 169.4L374.5 169.3L375.4 169.3L376.3 169.2L377.1 169.5L378.0 169.7L378.8 170.0L379.9 168.5L381.0 167.0L382.0 166.1L383.0 165.2L384.0 164.3L385.0 163.4L386.0 163.1L387.0 162.9L388.0 162.7L389.0 162.7L390.0 162.8L391.0 162.7L392.0 162.2L392.9 162.4L393.8 162.4L394.7 162.2L395.6 162.3L396.5 162.4L397.4 162.3L398.3 162.5L399.2 162.7L400.1 162.3L401.0 162.6L402.0 162.4L402.9 162.3L403.8 162.2L404.7 161.8L405.6 162.1L406.5 162.3L407.4 162.1L408.3 161.9L409.2 161.7L410.1 161.9L411.0 161.7L411.9 161.7L412.8 161.5L413.7 161.8L414.6 161.2L415.5 161.1L416.4 161.7L417.3 161.4L418.2 161.4L419.1 161.7L420.0 161.2L421.0 161.3L421.9 161.3L422.8 161.1L423.7 161.2L424.6 161.3L425.5 161.6L426.4 161.1L427.3 160.9L428.2 161.2L429.1 160.9L430.0 161.4L430.9 161.1L431.8 161.1L432.7 160.8L433.5 160.7L434.4 161.0L435.3 161.1L436.2 161.0L437.1 161.0L438.0 161.0L438.8 160.6L439.7 160.2L440.6 160.0L441.5 160.5L442.4 160.5L443.3 160.5L444.2 160.6L445.0 160.8L445.9 160.3L446.8 160.7L447.7 161.0L448.6 161.0L449.5 160.7L450.3 160.7L451.2 160.5L452.1 160.9L453.0 161.0L454.2 160.2L454.9 168.2L455.8 166.0L457.0 167.6L457.9 167.7L458.9 167.8L459.8 167.9L460.7 167.9L461.6 168.0L462.6 168.5L463.5 168.0L464.4 168.3L465.4 168.5L466.3 168.2L467.2 168.3L468.1 168.8L469.1 168.5L470.0 168.8L470.9 169.5L471.8 169.6L472.6 169.6L473.5 169.1L474.4 168.7L475.3 169.2L476.2 169.3L477.1 168.9L477.9 169.2L478.8 169.2L479.7 169.3L480.6 169.0L481.5 169.2L482.4 169.8L483.2 169.5L484.1 170.2L485.0 170.6L485.9 170.3L486.8 170.4L487.7 170.4L488.6 169.9L489.4 170.2L490.3 170.2L491.2 170.3L492.1 170.3L493.0 171.0L493.9 171.2L494.8 170.6L495.6 170.4L496.5 170.5L497.4 170.4L498.2 170.2L499.1 170.6L500.0 170.9L500.9 171.3L501.8 170.8L502.6 171.4L503.5 171.5L504.4 171.5L505.2 172.0L506.1 172.2L507.0 172.3L507.9 172.3L508.8 171.9L509.6 172.0L510.5 172.4L511.4 171.8L512.2 171.7L513.1 171.5L514.0 172.2L514.9 171.8L515.7 171.4L516.6 171.0L517.4 171.1L518.3 170.8L519.1 171.7L520.0 171.3L520.9 171.4L521.8 171.4L522.7 172.2L523.6 172.7L524.5 172.4L525.5 172.3L526.4 171.7L527.3 172.4L528.2 172.0L529.1 171.7L530.0 171.7L530.9 171.9L531.7 172.7L532.6 172.4L533.4 171.8L534.3 171.7L535.1 171.8L536.0 172.5L536.8 172.8L537.6 172.7L538.5 172.6L539.3 173.7"/>
<path d="M348.2 169.1L349.1 169.3L350.1 169.6L351.1 170.0L352.0 170.3L352.8 170.2L353.7 169.5L354.5 169.7L355.3 169.2L356.2 168.9L357.0 169.3L357.8 169.4L358.7 169.4L359.5 169.3L360.3 169.2L361.2 169.1L362.0 168.8L363.0 168.7L364.0 168.8L365.0 168.9L366.0 169.6L366.8 169.4L367.7 169.2L368.5 169.4L369.3 169.1L370.2 169.6L371.0 169.4L371.9 169.4L372.8 169.5L373.6 169.3L374.5 169.3L375.4 169.1L376.3 169.1L377.2 169.9L378.1 170.2L379.0 170.5L380.0 169.4L381.0 168.4L382.0 167.8L383.0 167.2L383.8 167.1L384.5 167.2L385.2 166.0L386.0 166.1L387.0 165.8L388.0 165.7L389.0 165.6L390.0 165.0L391.0 164.7L392.0 164.6L392.9 164.6L393.8 164.9L394.7 165.0L395.6 165.2L396.5 164.9L397.4 165.1L398.3 165.0L399.2 165.0L400.1 164.6L401.0 164.7L402.0 165.2L402.9 165.1L403.8 164.7L404.7 165.0L405.6 164.8L406.5 164.3L407.4 164.1L408.3 164.5L409.2 164.1L410.1 164.0L411.0 163.8L411.9 164.0L412.8 163.7L413.7 163.8L414.6 164.1L415.5 164.6L416.4 164.3L417.3 164.1L418.2 163.7L419.1 164.1L420.0 163.7L421.0 164.3L421.9 164.2L422.8 164.5L423.7 164.1L424.6 163.8L425.5 163.7L426.4 163.5L427.3 163.8L428.2 163.7L429.1 163.8L430.0 163.8L430.9 163.6L431.8 164.2L432.7 163.8L433.5 163.6L434.4 163.7L435.3 163.7L436.2 163.6L437.1 163.6L438.0 164.3L438.8 164.1L439.7 164.5L440.6 163.8L441.5 164.3L442.4 164.1L443.3 163.9L444.2 164.4L445.0 164.4L445.9 163.8L446.8 164.3L447.7 164.1L448.6 164.2L449.5 164.5L450.3 164.3L451.2 164.4L452.1 164.0L453.0 164.1L454.3 163.8L455.0 168.6L456.0 167.2L457.0 167.8L458.0 168.5L458.9 168.5L459.8 168.6L460.8 168.6L461.7 168.7L462.6 168.0L463.5 168.9L464.5 169.2L465.4 168.9L466.3 168.7L467.2 168.7L468.2 168.7L469.1 169.3L470.0 168.6L470.9 169.4L471.8 169.2L472.6 169.8L473.5 169.1L474.4 169.0L475.3 169.3L476.2 169.2L477.1 169.3L477.9 169.9L478.8 169.7L479.7 169.3L480.6 169.6L481.5 170.3L482.4 169.9L483.2 170.4L484.1 170.3L485.0 170.5L485.9 170.7L486.8 170.6L487.7 170.7L488.6 171.1L489.4 170.9L490.3 171.3L491.2 171.1L492.1 170.9L493.0 171.2L493.9 171.0L494.8 171.2L495.6 171.7L496.5 171.0L497.4 171.2L498.2 171.4L499.1 170.9L500.0 171.1L500.9 171.8L501.8 171.6L502.6 171.7L503.5 171.3L504.4 171.2L505.2 171.4L506.1 171.2L507.0 171.3L507.9 171.5L508.8 171.5L509.6 171.4L510.5 171.2L511.4 171.5L512.2 171.9L513.1 171.7L514.0 171.2L514.9 171.3L515.7 170.9L516.6 170.6L517.4 171.5L518.3 171.6L519.1 171.8L520.0 171.8L520.9 171.6L521.8 171.2L522.7 172.1L523.6 172.3L524.5 171.9L525.5 171.9L526.4 171.8L527.3 171.6L528.2 171.9L529.1 172.7L530.0 172.9L530.9 172.6L531.7 172.3L532.6 172.3L533.4 173.2L534.3 173.1L535.1 173.5L536.0 173.5L536.8 173.9L537.6 174.3L538.5 174.2L539.3 174.8"/>
</g>
<path d="M53.8 29.6V179.2H258.6" fill="none" stroke="#000" stroke-width="1.6" stroke-linecap="square"/>
<path d="M347.9 36.6V176.7H539.3" fill="none" stroke="#000" stroke-width="1.45" stroke-linecap="square"/>
<path d="M53.8 167.3h3.5M53.8 136.8h3.5M53.8 106.2h3.5M53.8 75.7h3.5M53.8 45.1h3.5M53.8 152.0h2.2M53.8 121.5h2.2M53.8 90.9h2.2M53.8 60.4h2.2M53.8 29.6h2.2M54.3 179.2v-3.7M122.4 179.2v-3.7M190.5 179.2v-3.7M258.6 179.2v-3.7M88.3 179.2v-2.5M156.4 179.2v-2.5M224.6 179.2v-2.5M347.9 168.6h3.1M347.9 152.1h3.1M347.9 135.6h3.1M347.9 119.0h3.1M347.9 102.5h3.1M347.9 86.0h3.1M347.9 69.5h3.1M347.9 53.0h3.1M347.9 36.4h3.1M347.9 160.3h1.9M347.9 143.8h1.9M347.9 127.3h1.9M347.9 110.8h1.9M347.9 94.3h1.9M347.9 77.7h1.9M347.9 61.2h1.9M347.9 44.7h1.9M347.9 176.7v-3.7M412.0 176.7v-3.7M476.0 176.7v-3.7M540.1 176.7v-3.7M379.9 176.7v-2.5M444.0 176.7v-2.5M508.1 176.7v-2.5" fill="none" stroke="#000" stroke-width="1.5"/>
<text transform="translate(50.50,170.80) scale(0.940,1)" font-family="'Liberation Sans', Arial, sans-serif" font-weight="bold" font-size="12" text-anchor="end">0</text>
<text transform="translate(50.50,140.25) scale(0.940,1)" font-family="'Liberation Sans', Arial, sans-serif" font-weight="bold" font-size="12" text-anchor="end">5</text>
<text transform="translate(50.50,109.70) scale(0.940,1)" font-family="'Liberation Sans', Arial, sans-serif" font-weight="bold" font-size="12" text-anchor="end">10</text>
<text transform="translate(50.50,79.15) scale(0.940,1)" font-family="'Liberation Sans', Arial, sans-serif" font-weight="bold" font-size="12" text-anchor="end">15</text>
<text transform="translate(50.50,48.60) scale(0.940,1)" font-family="'Liberation Sans', Arial, sans-serif" font-weight="bold" font-size="12" text-anchor="end">20</text>
<text transform="translate(54.20,191.80) scale(0.950,1)" font-family="'Liberation Sans', Arial, sans-serif" font-weight="bold" font-size="12" text-anchor="middle">100</text>
<text transform="translate(122.30,191.80) scale(0.950,1)" font-family="'Liberation Sans', Arial, sans-serif" font-weight="bold" font-size="12" text-anchor="middle">150</text>
<text transform="translate(190.40,191.80) scale(0.950,1)" font-family="'Liberation Sans', Arial, sans-serif" font-weight="bold" font-size="12" text-anchor="middle">200</text>
<text transform="translate(258.50,191.80) scale(0.950,1)" font-family="'Liberation Sans', Arial, sans-serif" font-weight="bold" font-size="12" text-anchor="middle">250</text>
<text transform="translate(344.90,171.50) scale(0.970,1)" font-family="'Liberation Sans', Arial, sans-serif" font-weight="bold" font-size="11.6" text-anchor="end">0</text>
<text transform="translate(344.90,154.98) scale(0.970,1)" font-family="'Liberation Sans', Arial, sans-serif" font-weight="bold" font-size="11.6" text-anchor="end">10</text>
<text transform="translate(344.90,138.46) scale(0.970,1)" font-family="'Liberation Sans', Arial, sans-serif" font-weight="bold" font-size="11.6" text-anchor="end">20</text>
<text transform="translate(344.90,121.94) scale(0.970,1)" font-family="'Liberation Sans', Arial, sans-serif" font-weight="bold" font-size="11.6" text-anchor="end">30</text>
<text transform="translate(344.90,105.42) scale(0.970,1)" font-family="'Liberation Sans', Arial, sans-serif" font-weight="bold" font-size="11.6" text-anchor="end">40</text>
<text transform="translate(344.90,88.90) scale(0.970,1)" font-family="'Liberation Sans', Arial, sans-serif" font-weight="bold" font-size="11.6" text-anchor="end">50</text>
<text transform="translate(344.90,72.38) scale(0.970,1)" font-family="'Liberation Sans', Arial, sans-serif" font-weight="bold" font-size="11.6" text-anchor="end">60</text>
<text transform="translate(344.90,55.86) scale(0.970,1)" font-family="'Liberation Sans', Arial, sans-serif" font-weight="bold" font-size="11.6" text-anchor="end">70</text>
<text transform="translate(344.90,39.34) scale(0.970,1)" font-family="'Liberation Sans', Arial, sans-serif" font-weight="bold" font-size="11.6" text-anchor="end">80</text>
<text transform="translate(348.00,188.30) scale(0.960,1)" font-family="'Liberation Sans', Arial, sans-serif" font-weight="bold" font-size="11.8" text-anchor="middle">100</text>
<text transform="translate(412.07,188.30) scale(0.960,1)" font-family="'Liberation Sans', Arial, sans-serif" font-weight="bold" font-size="11.8" text-anchor="middle">150</text>
<text transform="translate(476.15,188.30) scale(0.960,1)" font-family="'Liberation Sans', Arial, sans-serif" font-weight="bold" font-size="11.8" text-anchor="middle">200</text>
<text transform="translate(540.23,188.30) scale(0.960,1)" font-family="'Liberation Sans', Arial, sans-serif" font-weight="bold" font-size="11.8" text-anchor="middle">250</text>
<text transform="translate(0.30,12.10)" font-family="'Liberation Serif', 'Times New Roman', serif" font-weight="normal" font-size="15.5" text-anchor="start" stroke="#000" stroke-width="0.35">(</text>
<text transform="translate(5.60,11.30)" font-family="'Liberation Serif', 'Times New Roman', serif" font-weight="bold" font-size="14.8" text-anchor="start">a</text>
<text transform="translate(13.30,12.10)" font-family="'Liberation Serif', 'Times New Roman', serif" font-weight="normal" font-size="15.5" text-anchor="start" stroke="#000" stroke-width="0.35">)</text>
<text transform="translate(297.50,11.60)" font-family="'Liberation Serif', 'Times New Roman', serif" font-weight="normal" font-size="15" text-anchor="start" stroke="#000" stroke-width="0.35">(</text>
<text transform="translate(302.90,11.30)" font-family="'Liberation Serif', 'Times New Roman', serif" font-weight="bold" font-size="14.8" text-anchor="start">b</text>
<text transform="translate(311.30,11.60)" font-family="'Liberation Serif', 'Times New Roman', serif" font-weight="normal" font-size="15" text-anchor="start" stroke="#000" stroke-width="0.35">)</text>
<text transform="translate(29.40,165.60) rotate(-90)" font-family="'Liberation Serif', 'Times New Roman', serif" font-weight="bold" font-size="13.2" text-anchor="start">Response Unit</text>
<text transform="translate(29.40,48.90) rotate(-90)" font-family="'Liberation Serif', 'Times New Roman', serif" font-weight="bold" font-size="13.2" text-anchor="end">(RU)</text>
<text transform="translate(324.20,114.20) rotate(-90) scale(0.929,1)" font-family="'Liberation Serif', 'Times New Roman', serif" font-weight="bold" font-size="13.2" text-anchor="middle">Response Unit (RU)</text>
<text transform="translate(147.00,209.00) scale(0.885,1)" font-family="'Liberation Serif', 'Times New Roman', serif" font-weight="bold" font-size="13.5" text-anchor="middle" xml:space="preserve">Time  (s)</text>
<text transform="translate(432.50,206.30) scale(0.895,1)" font-family="'Liberation Serif', 'Times New Roman', serif" font-weight="bold" font-size="13.5" text-anchor="middle">Time (s)</text>
<text transform="translate(103.40,244.20)" font-family="'Liberation Serif', 'Times New Roman', serif" font-weight="normal" font-size="14.5" text-anchor="start" letter-spacing="0.07">Compound</text>
<text transform="translate(180.20,244.20) scale(0.900,1)" font-family="'Liberation Serif', 'Times New Roman', serif" font-weight="bold" font-size="14.2" text-anchor="end">1</text>
<text transform="translate(380.50,241.80)" font-family="'Liberation Serif', 'Times New Roman', serif" font-weight="normal" font-size="14.6" text-anchor="start" letter-spacing="0.3">Z-Phe-Arg-pNA</text>
</svg>
</body></html>
